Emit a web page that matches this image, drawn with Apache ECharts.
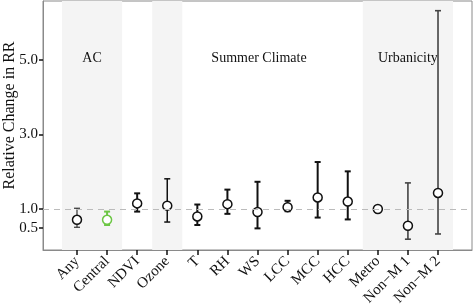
<!DOCTYPE html>
<html>
<head>
<meta charset="utf-8">
<script src="https://cdn.jsdelivr.net/npm/echarts@6/dist/echarts.min.js"></script>
<style>
    html, body {margin: 0; padding: 0; background: #fff;}
    #rr_chart {width: 473px; height: 307px;}
</style>
</head>
<body>
<div id="rr_chart"></div>
<script>
var labels = ['Any', 'Central', 'NDVI', 'Ozone', 'T', 'RH', 'WS', 'LCC', 'MCC', 'HCC', 'Metro', 'Non\u2212M 1', 'Non\u2212M 2']
var estimate = [0.71, 0.71, 1.15, 1.09, 0.80, 1.13, 0.92, 1.05, 1.31, 1.20, 1.00, 0.55, 1.43]
var lower = [0.51, 0.57, 0.93, 0.65, 0.57, 0.87, 0.48, 0.94, 0.77, 0.72, 0.97, 0.19, 0.33]
var upper = [1.02, 0.93, 1.42, 1.81, 1.12, 1.52, 1.73, 1.22, 2.26, 2.01, 1.03, 1.70, 6.32]
var yTicks = [0.5, 1.0, 3.0, 5.0]

// style per category (kept apart from the values)
var barColors = ['#333', '#6cc644', '#111', '#111', '#111', '#111', '#111', '#111', '#111', '#111', '#111', '#444', '#444']
var barWidths = [1.2, 2, 2, 1.5, 2, 2, 2, 2, 2, 2, 2, 1.6, 1.6]

var xPos = labels.map(function (l, i) { return i + 1 })
var serif = 'Liberation Serif'

function drawChart() {
    var dom = document.getElementById('rr_chart')
    var instance = echarts.init(dom)

    var ciData = xPos.map(function (x, i) { return [x, lower[i], upper[i]] })
    var ptData = xPos.map(function (x, i) {
        return {
            value: [x, estimate[i]],
            itemStyle: {borderColor: i === 1 ? '#6cc644' : '#111'}
        }
    })

    var option = {
        backgroundColor: '#fff',
        animation: false,
        grid: {
            left: 43, right: 1, top: 1, bottom: 57,
            outerBoundsMode: 'none',
            containLabel: false,
            show: true, borderColor: '#8a8a8a', borderWidth: 1
        },
        xAxis: {
            type: 'value',
            min: -0.13,
            max: 14.13,
            splitLine: {show: false},
            axisLine: {onZero: false, lineStyle: {color: '#8a8a8a'}},
            axisTick: {
                show: true, length: 5, customValues: xPos,
                lineStyle: {color: '#111', width: 1.5}
            },
            axisLabel: {
                customValues: xPos,
                rotate: 45,
                margin: 9,
                fontFamily: serif,
                fontSize: 15,
                color: '#111',
                formatter: function (v) { return labels[Math.round(v) - 1] || '' }
            }
        },
        yAxis: {
            type: 'value',
            min: -0.1,
            max: 6.58,
            name: 'Relative Change in RR',
            nameLocation: 'middle',
            nameGap: 25,
            nameMoveOverlap: false,
            nameTextStyle: {fontFamily: serif, fontSize: 16, color: '#111', padding: [0, 0, 0, 20]},
            splitLine: {show: false},
            axisLine: {show: true, onZero: false, lineStyle: {color: '#8a8a8a'}},
            axisTick: {
                show: true, length: 4, customValues: yTicks,
                lineStyle: {color: '#111', width: 1.5}
            },
            axisLabel: {
                customValues: yTicks,
                margin: 5,
                fontFamily: serif,
                fontSize: 15,
                color: '#111',
                formatter: function (v) { return v.toFixed(1) }
            }
        },
        series: [
            {
                name: 'bands',
                type: 'custom',
                silent: true,
                data: [],
                renderItem: function () { return null },
                markArea: {
                    silent: true,
                    label: {
                        show: true, position: 'insideTop', distance: 50,
                        fontFamily: serif, fontSize: 14, color: '#111'
                    },
                    data: [
                        [{name: 'AC', xAxis: 0.5, itemStyle: {color: '#f4f4f4'}}, {xAxis: 2.5}],
                        [{name: '', xAxis: 3.5, itemStyle: {color: '#f4f4f4'}}, {xAxis: 4.5}],
                        [{name: 'Summer Climate', xAxis: 3.5, itemStyle: {color: 'rgba(0,0,0,0)'}}, {xAxis: 10.6}],
                        [{name: 'Urbanicity', xAxis: 10.5, itemStyle: {color: '#f4f4f4'}}, {xAxis: 13.5}]
                    ]
                },
                markLine: {
                    silent: true,
                    symbol: 'none',
                    label: {show: false},
                    lineStyle: {color: '#bbbbbb', type: [6, 5], width: 1.2},
                    data: [{yAxis: 1}]
                }
            },
            {
                name: 'CI',
                type: 'custom',
                data: ciData,
                z: 3,
                renderItem: function (params, api) {
                    var i = params.dataIndex
                    var top = api.coord([api.value(0), api.value(2)])
                    var bot = api.coord([api.value(0), api.value(1)])
                    var cap = 3
                    var st = {stroke: barColors[i], lineWidth: barWidths[i], fill: null}
                    return {
                        type: 'group',
                        children: [
                            {type: 'line', shape: {x1: top[0], y1: top[1], x2: bot[0], y2: bot[1]}, style: st},
                            {type: 'line', shape: {x1: top[0] - cap, y1: top[1], x2: top[0] + cap, y2: top[1]}, style: st},
                            {type: 'line', shape: {x1: bot[0] - cap, y1: bot[1], x2: bot[0] + cap, y2: bot[1]}, style: st}
                        ]
                    }
                }
            },
            {
                name: 'RR',
                type: 'scatter',
                z: 4,
                symbol: 'circle',
                symbolSize: 9,
                itemStyle: {color: '#fff', borderColor: '#111', borderWidth: 1.5, opacity: 1},
                data: ptData
            }
        ]
    }

    instance.setOption(option)
}

drawChart()
</script>
</body>
</html>
